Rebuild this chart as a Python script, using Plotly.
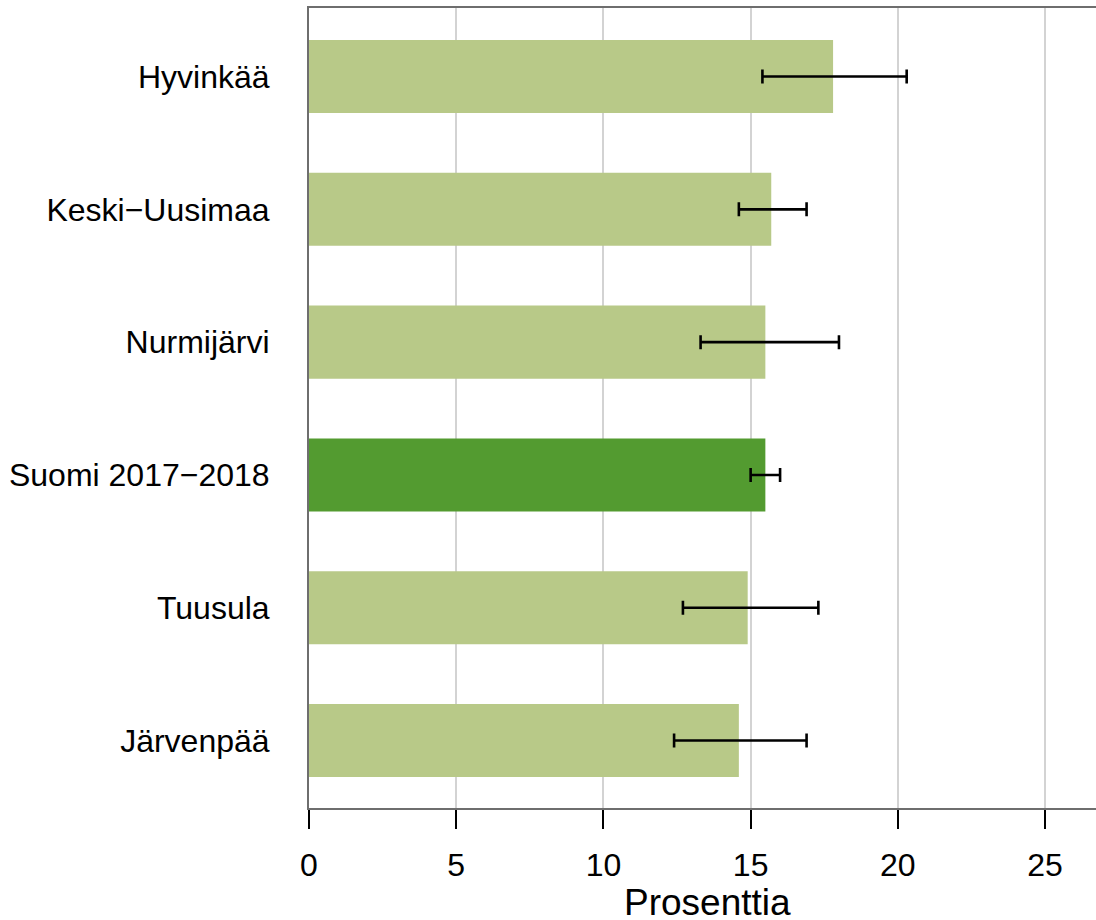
import plotly.graph_objects as go

categories = ["Hyvinkää", "Keski\u2212Uusimaa", "Nurmijärvi", "Suomi 2017\u22122018", "Tuusula", "Järvenpää"]
values = [17.8, 15.7, 15.5, 15.5, 14.9, 14.6]
lower = [15.4, 14.6, 13.3, 15.0, 12.7, 12.4]
upper = [20.3, 16.9, 18.0, 16.0, 17.3, 16.9]
colors = ["#B8C988", "#B8C988", "#B8C988", "#539B30", "#B8C988", "#B8C988"]
x_ticks = [0, 5, 10, 15, 20, 25]
x_title = "Prosenttia"

err_plus = [u - v for u, v in zip(upper, values)]
err_minus = [v - l for v, l in zip(values, lower)]

fig = go.Figure()
fig.add_trace(go.Bar(
    y=categories, x=values, orientation="h",
    marker=dict(color=colors, line=dict(width=0)),
    width=0.55,
    error_x=dict(type="data", symmetric=False, array=err_plus, arrayminus=err_minus,
                 color="black", thickness=2.6, width=7),
    hoverinfo="x+y",
))

font_family = "Liberation Sans, Arial, sans-serif"
fig.update_layout(
    width=1096, height=920,
    margin=dict(l=309, r=0, t=8, b=112),
    plot_bgcolor="white", paper_bgcolor="white",
    showlegend=False,
    font=dict(family=font_family, size=32, color="black"),
    xaxis=dict(
        range=[0, 26.73], tickvals=x_ticks, ticktext=[str(t) for t in x_ticks],
        showgrid=True, gridcolor="#D3D3D3", gridwidth=2, zeroline=False,
        showline=True, linecolor="#6E6E6E", linewidth=2, mirror=True,
        ticks="outside", ticklen=19, tickwidth=2, tickcolor="black",
        ticklabelstandoff=9,
        tickfont=dict(size=32, family=font_family),
    ),
    yaxis=dict(
        type="category", categoryorder="array", categoryarray=categories,
        range=[5.508, -0.516],
        showgrid=False, zeroline=False,
        showline=True, linecolor="#6E6E6E", linewidth=2,
        ticks="", ticklabelstandoff=31,
        tickfont=dict(size=32, family=font_family),
    ),
    annotations=[dict(
        text=x_title, xref="x", yref="paper", x=13.54, y=0, yshift=-94,
        xanchor="center", yanchor="middle", showarrow=False,
        font=dict(size=37, family=font_family, color="black"),
    )],
)

fig.write_html("out.html", config={"displayModeBar": False},
               post_script="document.body.style.margin='0px';document.body.style.overflow='hidden';")
